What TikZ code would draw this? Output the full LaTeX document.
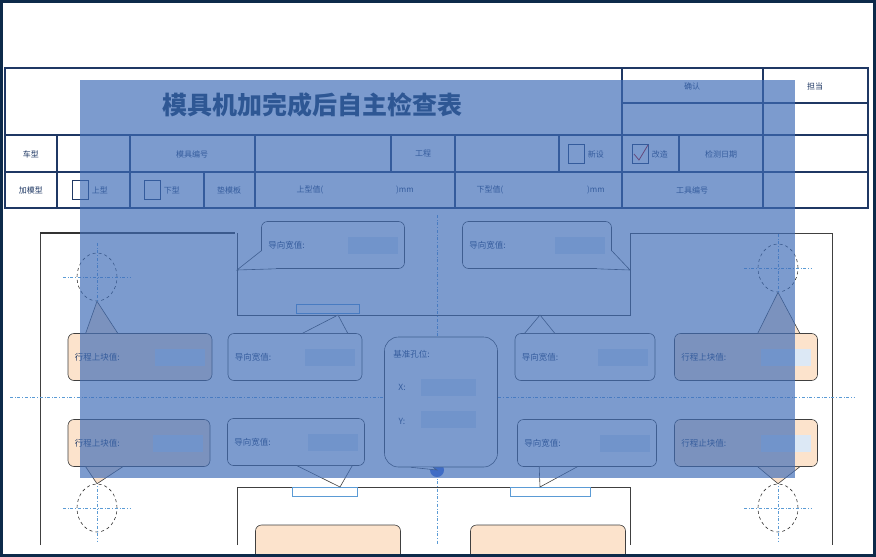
\documentclass[tikz,border=0pt]{standalone}
\usepackage{fontspec}
\setmainfont{Noto Sans CJK SC}
\usetikzlibrary{calc,positioning,shapes.geometric}
\tikzset{>=latex}
\definecolor{navy}{HTML}{0D2A4A}
\definecolor{ink}{HTML}{1F3864}
\definecolor{peach}{HTML}{FCE3CC}
\definecolor{axis}{HTML}{5B9BD5}
\definecolor{field}{HTML}{DCE8F5}
\definecolor{veil}{HTML}{3F6DB8}
\newcommand{\callout}[5]{%
  \node (#1) [bubble, fill=#5, minimum width=#3pt, minimum height=47pt] at (#2) {};
  \node [lbl, anchor=west] at ($(#1.west)+(6pt,0)$) {#4};
  \node [inbox] at ($(#1.east)+(-32pt,0)$) {};}
\newcommand{\pointer}[4]{%
  \fill[#4] #1 -- #3 -- #2 -- cycle;
  \draw[gray!50!black, semithick] #1 -- #3 -- #2;}
\begin{document}
\begin{tikzpicture}
    [
      x=1pt, y=-1pt,
      bubble/.style={draw=gray!50!black, semithick, rounded corners=6pt, inner sep=0pt},
      inbox/.style={fill=field, minimum width=50pt, minimum height=17pt, inner sep=0pt},
      lbl/.style={font=\fontsize{8.5}{9}\selectfont, text=ink, inner sep=1pt},
      cell/.style={font=\fontsize{8}{9}\selectfont, text=ink},
      grid/.style={draw=ink, line width=1.1pt},
      frame/.style={draw=gray!50!black, semithick},
      axisline/.style={draw=axis, dash dot, semithick},
      ring/.style={draw=gray!40!black, dashed, semithick}
    ]
    \useasboundingbox (0,0) rectangle (876,557);
    \fill[white] (0,0) rectangle (876,557);
    % header table
    \draw[grid] (5,68) rectangle (868,208);
    \draw[grid] (5,135) -- (868,135);
    \draw[grid] (5,172) -- (868,172);
    \draw[grid] (622,103) -- (868,103);
    \foreach \x in {622,763} \draw[grid] (\x,68) -- (\x,208);
    \foreach \x in {57,130,255,391,455,559,679} \draw[grid] (\x,135) -- (\x,172);
    \foreach \x in {57,130,204,255,455} \draw[grid] (\x,172) -- (\x,208);
    \node (title) [text=navy, font=\fontsize{25}{27}\selectfont\bfseries] at (312,105) {模具机加完成后自主检查表};
    \node (confirm) [cell] at (692,86) {确认};
    \node (owner) [cell] at (815,86) {担当};
    \node (car) [cell] at (31,154) {车型};
    \node (partno) [cell] at (192,154) {模具编号};
    \node (proc) [cell] at (423,154) {工程};
    \node (chknew) [draw=ink, thick, minimum width=16pt, minimum height=19pt, inner sep=0pt] at (576,154) {};
    \node (newtxt) [cell, right=0pt of chknew] {新设};
    \node (chkmod) [draw=ink, thick, minimum width=16pt, minimum height=19pt, inner sep=0pt] at (640,154) {};
    \node (modtxt) [cell, right=0pt of chkmod] {改造};
    \draw[red!70!black, thick] ($(chkmod.center)+(-6,0)$) -- ($(chkmod.center)+(-1,6)$) -- ($(chkmod.center)+(8,-9)$);
    \node (date) [cell] at (721,154) {检测日期};
    \node (mtype) [cell] at (31,190) {加模型};
    \node (chkup) [draw=ink, thick, minimum width=16pt, minimum height=19pt, inner sep=0pt] at (80,190) {};
    \node (uptxt) [cell, right=0pt of chkup] {上型};
    \node (chklow) [draw=ink, thick, minimum width=16pt, minimum height=19pt, inner sep=0pt] at (152,190) {};
    \node (lowtxt) [cell, right=0pt of chklow] {下型};
    \node (pad) [cell] at (229,190) {垫模板};
    \node (upval) [cell] at (310,190) {上型值(};
    \node (upmm) [cell] at (405,190) {)mm};
    \node (lowval) [cell] at (490,190) {下型值(};
    \node (lowmm) [cell] at (596,190) {)mm};
    \node (tool) [cell] at (692,190) {工具编号};
    % die outline
    \draw[frame] (40,545) -- (40,233) -- (235,233);
    \draw[gray!40!black, line width=2pt] (40,233) -- (235,233);
    \draw[frame] (630,233) -- (832,233) -- (832,545);
    \draw[frame] (237,233) -- (237,315) -- (630,315) -- (630,233);
    \draw[frame] (237,545) -- (237,487) -- (630,487) -- (630,545);
    \node (padtop) [draw=axis, fill=white, minimum width=63pt, minimum height=9pt, inner sep=0pt] at (328,309) {};
    \node (padl) [draw=axis, fill=white, minimum width=65pt, minimum height=9pt, inner sep=0pt] at (325,492) {};
    \node (padr) [draw=axis, fill=white, minimum width=80pt, minimum height=9pt, inner sep=0pt] at (550,492) {};
    % axes
    \draw[axisline] (437,215) -- (437,545);
    \draw[axisline] (10,397) -- (855,397);
    % guide holes
    \foreach \n/\cx/\cy in {hA/97/277, hB/778/268, hC/97/508, hD/778/508} {
      \node (\n) [ring, ellipse, minimum width=40pt, minimum height=48pt, inner sep=0pt] at (\cx,\cy) {};
      \draw[axisline] ($(\n.center)+(0,-34)$) -- ($(\n.center)+(0,34)$);
      \draw[axisline] ($(\n.center)+(-34,0)$) -- ($(\n.center)+(34,0)$);
    }
    \node (datum) [circle, fill=axis!70!blue, minimum size=14pt, inner sep=0pt] at (437,470) {};
    % callouts
    \callout{cT1}{333,245}{143}{导向宽值:}{white}
    \callout{cT2}{537,245}{149}{导向宽值:}{white}
    \callout{cL1}{140,357}{144}{行程上块值:}{peach}
    \callout{cL2}{295,357}{134}{导向宽值:}{white}
    \callout{cR1}{585,357}{140}{导向宽值:}{white}
    \callout{cR2}{746,357}{143}{行程上块值:}{peach}
    \callout{cL3}{139,443}{142}{行程上块值:}{peach}
    \callout{cL4}{296,442}{137}{导向宽值:}{white}
    \callout{cR3}{587,443}{139}{导向宽值:}{white}
    \callout{cR4}{746,443}{143}{行程止块值:}{peach}
    \node (base) [bubble, fill=white, minimum width=113pt, minimum height=130pt, rounded corners=14pt] at (441,402) {};
    \node [lbl, anchor=north west] at ($(base.north west)+(8,12)$) {基准孔位:};
    \node [lbl] at (402,387) {X:};
    \node [lbl] at (402,421) {Y:};
    \node (inX) [inbox, minimum width=55pt] at (448,387) {};
    \node (inY) [inbox, minimum width=55pt] at (448,419) {};
    \node (cB1) [bubble, fill=peach, minimum width=145pt, minimum height=40pt] at (328,545) {};
    \node (cB2) [bubble, fill=peach, minimum width=155pt, minimum height=40pt] at (548,545) {};
    % pointers
    \pointer{($(cT1.south west)+(15,0)$)}{($(cT1.south west)+(0,-18)$)}{(237,270)}{white}
    \pointer{($(cT2.south east)+(-15,0)$)}{($(cT2.south east)+(0,-18)$)}{(630,270)}{white}
    \pointer{($(cL1.north west)+(18,0)$)}{($(cL1.north west)+(50,0)$)}{(hA.south)}{peach}
    \pointer{($(cL2.north west)+(75,0)$)}{($(cL2.north west)+(120,0)$)}{(338,315)}{white}
    \pointer{($(cR1.north west)+(10,0)$)}{($(cR1.north west)+(40,0)$)}{(540,315)}{white}
    \pointer{($(cR2.north east)+(-60,0)$)}{($(cR2.north east)+(-18,0)$)}{(hB.south)}{peach}
    \pointer{($(cL3.south west)+(18,0)$)}{($(cL3.south west)+(55,0)$)}{(hC.north)}{peach}
    \pointer{($(cL4.south west)+(70,0)$)}{($(cL4.south west)+(125,0)$)}{(340,487)}{white}
    \pointer{($(cR3.south west)+(22,0)$)}{($(cR3.south west)+(60,0)$)}{(540,487)}{white}
    \pointer{($(cR4.south east)+(-60,0)$)}{($(cR4.south east)+(-18,0)$)}{(hD.north)}{peach}
    \pointer{($(base.south)+(-30,0)$)}{($(base.south)+(-8,0)$)}{(datum.center)}{white}
    % overlay and frame
    \fill[veil, fill opacity=0.68] (80,80) rectangle (795,478);
    \draw[navy, line width=3pt] (1.5,1.5) rectangle (874.5,555.5);
  \end{tikzpicture}
\end{document}
